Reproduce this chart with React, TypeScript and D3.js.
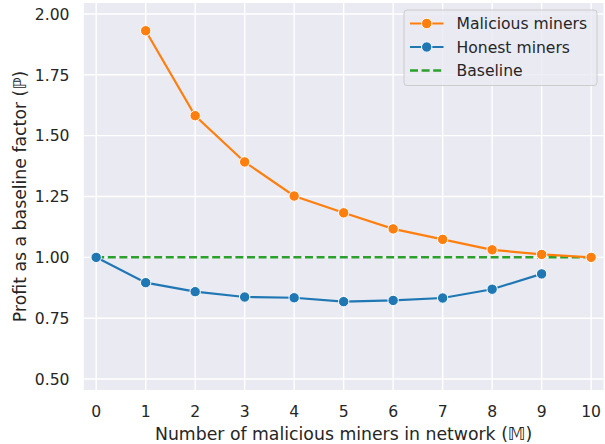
import React from "react";
import * as d3 from "d3";

const maliciousX = [1, 2, 3, 4, 5, 6, 7, 8, 9, 10];
const maliciousY = [1.931, 1.582, 1.392, 1.252, 1.183, 1.117, 1.074, 1.031, 1.012, 1.0];
const honestX = [0, 1, 2, 3, 4, 5, 6, 7, 8, 9];
const honestY = [1.0, 0.896, 0.859, 0.837, 0.834, 0.818, 0.823, 0.833, 0.869, 0.932];
const baselineX = [0, 1, 2, 3, 4, 5, 6, 7, 8, 9, 10];
const baselineY = [1, 1, 1, 1, 1, 1, 1, 1, 1, 1, 1];
const xTicks = [0, 1, 2, 3, 4, 5, 6, 7, 8, 9, 10];
const yTicks = [0.5, 0.75, 1.0, 1.25, 1.5, 1.75, 2.0];
const legendLabels = ["Malicious miners", "Honest miners", "Baseline"];

const W = 605;
const H = 444;
const L = 83.8, R = 603.5, T = 3, B = 390;
const ORANGE = "#ff7f0e";
const BLUE = "#1f77b4";
const GREEN = "#2ca02c";
const TEXT = "#262626";
const FONT = "'DejaVu Sans', sans-serif";

export default function App() {
  const x = d3.scaleLinear().domain([-0.25, 10.25]).range([L, R]);
  const y = d3.scaleLinear().domain([0.455, 2.045]).range([B, T]);
  const line = d3
    .line<[number, number]>()
    .x((d) => x(d[0]))
    .y((d) => y(d[1]));
  const mal = maliciousX.map((v, i) => [v, maliciousY[i]] as [number, number]);
  const hon = honestX.map((v, i) => [v, honestY[i]] as [number, number]);
  const base = baselineX.map((v, i) => [v, baselineY[i]] as [number, number]);

  const legColors = [ORANGE, BLUE, GREEN];
  const legRows = [23.5, 47, 70.5];

  return (
    <svg
      width={W}
      height={H}
      style={{ position: "absolute", left: 0, top: 0 }}
      fontFamily={FONT}
    >
      <rect x={0} y={0} width={W} height={H} fill="#ffffff" />
      <rect x={L} y={T} width={R - L} height={B - T} fill="#EAEAF2" />
      {xTicks.map((t) => (
        <line key={"gx" + t} x1={x(t)} x2={x(t)} y1={T} y2={B} stroke="#fff" strokeWidth={1.4} />
      ))}
      {yTicks.map((t) => (
        <line key={"gy" + t} x1={L} x2={R} y1={y(t)} y2={y(t)} stroke="#fff" strokeWidth={1.4} />
      ))}
      <path d={line(base) || ""} fill="none" stroke={GREEN} strokeWidth={2.5} strokeDasharray="8,3.6" />
      <path d={line(mal) || ""} fill="none" stroke={ORANGE} strokeWidth={2.2} />
      {mal.map((d, i) => (
        <circle key={"m" + i} cx={x(d[0])} cy={y(d[1])} r={5.2} fill={ORANGE} stroke="#fff" strokeWidth={1} />
      ))}
      <path d={line(hon) || ""} fill="none" stroke={BLUE} strokeWidth={2.2} />
      {hon.map((d, i) => (
        <circle key={"h" + i} cx={x(d[0])} cy={y(d[1])} r={5.2} fill={BLUE} stroke="#fff" strokeWidth={1} />
      ))}
      {xTicks.map((t) => (
        <text key={"tx" + t} x={x(t)} y={417.3} textAnchor="middle" fontSize={15.6} fill={TEXT}>
          {String(t)}
        </text>
      ))}
      {yTicks.map((t) => (
        <text key={"ty" + t} x={69.5} y={y(t) + 5.7} textAnchor="end" fontSize={15.6} fill={TEXT}>
          {t.toFixed(2)}
        </text>
      ))}
      <text x={(L + R) / 2} y={440} textAnchor="middle" fontSize={17.3} fill={TEXT}>
        Number of malicious miners in network (𝕄)
      </text>
      <text
        transform={`translate(26,${(T + B) / 2}) rotate(-90)`}
        textAnchor="middle"
        fontSize={17.3}
        fill={TEXT}
      >
        Profit as a baseline factor (ℙ)
      </text>
      <rect x={404} y={10} width={193} height={75.5} rx={3} fill="#EAEAF2" fillOpacity={0.8} stroke="#cccccc" strokeWidth={1} />
      {legendLabels.map((lab, i) => (
        <g key={"l" + i}>
          <line
            x1={410}
            x2={443.5}
            y1={legRows[i]}
            y2={legRows[i]}
            stroke={legColors[i]}
            strokeWidth={i === 2 ? 2.5 : 2.2}
            strokeDasharray={i === 2 ? "8,3.6" : undefined}
          />
          {i < 2 && (
            <circle cx={426.7} cy={legRows[i]} r={5.2} fill={legColors[i]} stroke="#fff" strokeWidth={1} />
          )}
          <text x={456.5} y={legRows[i] + 5.6} fontSize={15.6} fill={TEXT}>
            {lab}
          </text>
        </g>
      ))}
    </svg>
  );
}
